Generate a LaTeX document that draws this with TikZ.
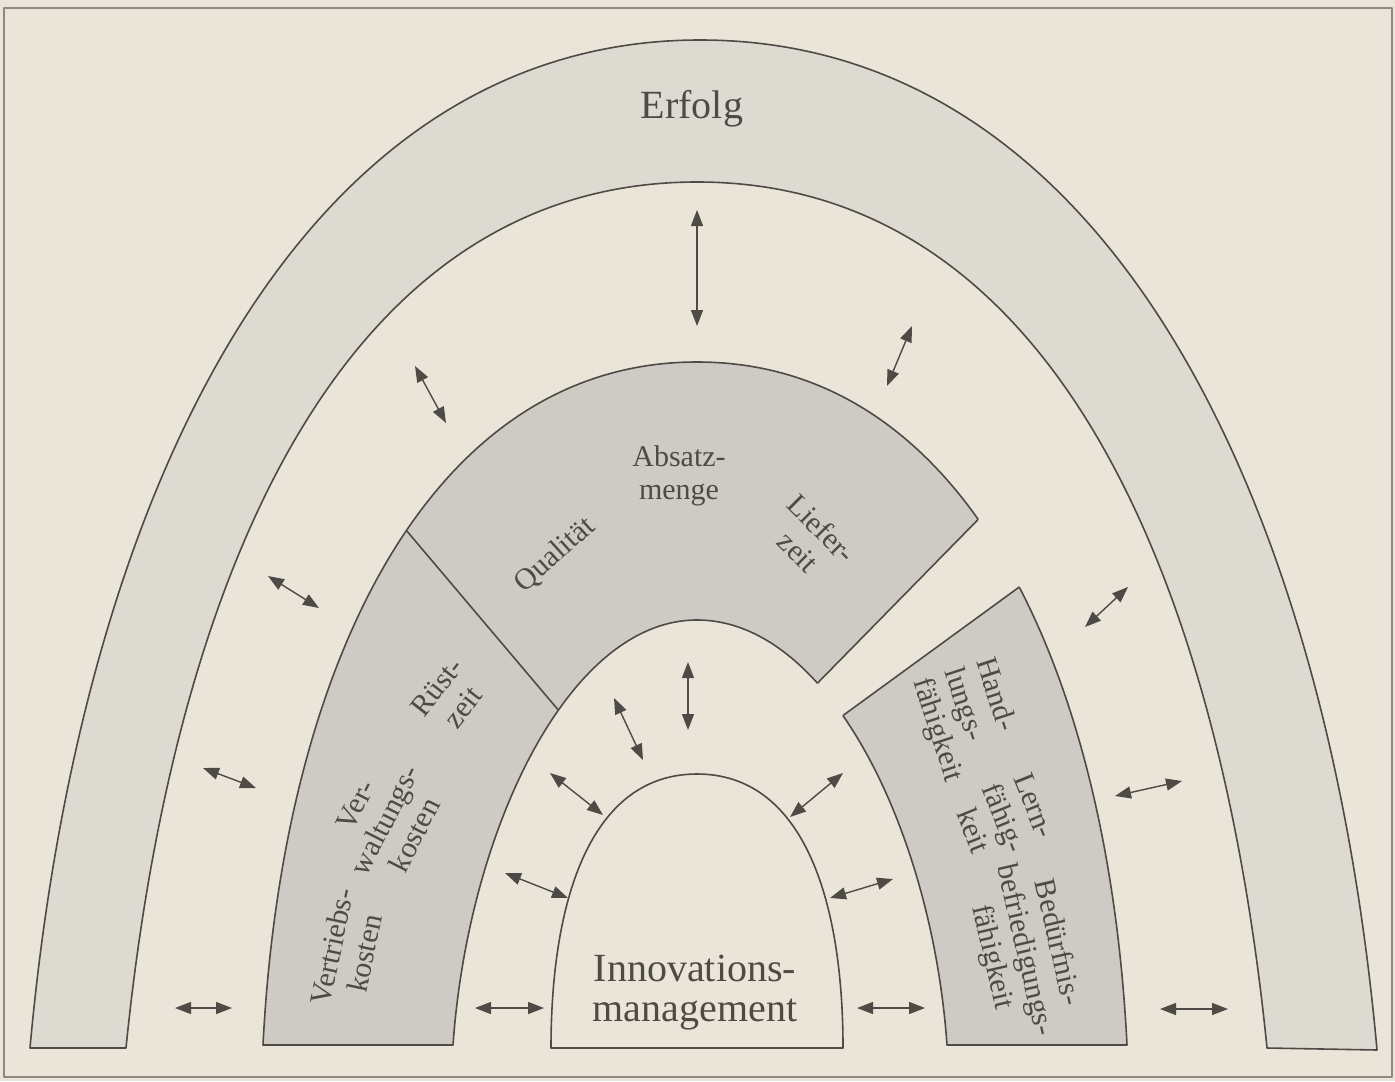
\documentclass[tikz,border=0pt]{standalone}
\usepackage{fontspec}
\setmainfont{Liberation Serif}
\usetikzlibrary{arrows.meta}
\definecolor{bg}{RGB}{234,229,216}
\definecolor{bandA}{RGB}{221,218,209}
\definecolor{bandB}{RGB}{206,203,196}
\definecolor{ink}{RGB}{78,74,70}
\definecolor{framec}{RGB}{140,137,130}
\tikzset{
  big/.style={font=\fontsize{20}{20}\selectfont, text=ink, inner sep=0pt},
  small/.style={font=\fontsize{15}{16.5}\selectfont, text=ink, inner sep=0pt, align=center},
  dbl/.style={{Triangle[length=8pt,width=6pt]}-{Triangle[length=8pt,width=6pt]}, line width=0.7pt, draw=ink},
  outl/.style={draw=ink, line width=0.8pt}
}
\def\midband{(263,1045) .. controls (282,669) and (428,362) .. (697,362) .. controls (966,362) and (1108,669) .. (1127,1045) -- (947,1045) .. controls (932,832) and (829,620) .. (697,620) .. controls (568,620) and (468,832) .. (453,1045) -- cycle}
\begin{document}
\begin{tikzpicture}[x=0.5pt,y=-0.5pt,line join=round]
\fill[bg] (0,0) rectangle (1395,1081);
\useasboundingbox (0,0) rectangle (1395,1081);
\draw[framec, line width=0.6pt] (4,8) rectangle (1392,1077);
% outer band (Erfolg)
\path[fill=bandA, outl] (30,1048) .. controls (80,495) and (298,40) .. (700,40) .. controls (1106,40) and (1327,496) .. (1377,1050) -- (1267,1048) .. controls (1219,572) and (1051,182) .. (697,182) .. controls (343,182) and (174,572) .. (126,1048) -- cycle;
% middle band, left piece
\begin{scope}
\clip (247,342) -- (620,783) -- (620,1100) -- (0,1100) -- (0,342) -- cycle;
\fill[bandB] \midband;
\draw[outl] \midband;
\end{scope}
% middle band, central piece
\begin{scope}
\clip (247,342) -- (620,783) -- (746,756) -- (1113,382) -- (1113,0) -- (247,0) -- cycle;
\fill[bandB] \midband;
\draw[outl] \midband;
\end{scope}
% middle band, right piece
\begin{scope}
\clip (1177,472) -- (760,776) -- (760,1100) -- (1395,1100) -- (1395,472) -- cycle;
\fill[bandB] \midband;
\draw[outl] \midband;
\end{scope}
% cut lines
\begin{scope}
\clip \midband;
\draw[outl] (247,342) -- (620,783);
\draw[outl] (1113,382) -- (746,756);
\draw[outl] (1177,472) -- (760,776);
\end{scope}
% innovation core
\path[fill=bg, outl] (551,1048) .. controls (551,897) and (592,774) .. (697,774) .. controls (802,774) and (843,897) .. (843,1048) -- cycle;
% labels
\node[big, anchor=base] (erfolg) at (692,119) {Erfolg};
\node[big, align=center] (innov) at (695,993) {Innovations-\\management};
\node[small] (absatz) at (679,476) {Absatz-\\menge};
\node[small, rotate=42] (qual) at (555,555) {Qualität};
\node[small, rotate=-45] (liefer) at (810,540) {Liefer-\\zeit};
\node[small, rotate=52] (ruest) at (450,697) {Rüst-\\zeit};
\node[small, rotate=63] (verw) at (385,820) {Ver-\\waltungs-\\kosten};
\node[small, rotate=78] (vertr) at (348,950) {Vertriebs-\\kosten};
\node[small, align=left, rotate=-72] (hand) at (968,720) {Hand-\\lungs-\\fähigkeit};
\node[small, rotate=-68] (lern) at (1004,818) {Lern-\\fähig-\\keit};
\node[small, rotate=-77] (bed) at (1024,950) {Bedürfnis-\\befriedigungs-\\fähigkeit};
% arrow end points
\coordinate (a1s) at (697,210);  \coordinate (a1e) at (697,326);
\coordinate (a2s) at (415,366);  \coordinate (a2e) at (446,423);
\coordinate (a3s) at (912,326);  \coordinate (a3e) at (887,386);
\coordinate (a4s) at (268,576);  \coordinate (a4e) at (319,608);
\coordinate (a5s) at (203,768);  \coordinate (a5e) at (256,788);
\coordinate (a6s) at (175,1008); \coordinate (a6e) at (232,1008);
\coordinate (a7s) at (475,1008); \coordinate (a7e) at (544,1008);
\coordinate (a8s) at (857,1008); \coordinate (a8e) at (925,1008);
\coordinate (a9s) at (1160,1009); \coordinate (a9e) at (1228,1009);
\coordinate (a10s) at (1115,796); \coordinate (a10e) at (1182,781);
\coordinate (a11s) at (1085,627); \coordinate (a11e) at (1128,587);
\coordinate (a12s) at (614,698);  \coordinate (a12e) at (643,760);
\coordinate (a13s) at (688,662);  \coordinate (a13e) at (688,730);
\coordinate (a14s) at (550,773);  \coordinate (a14e) at (603,815);
\coordinate (a15s) at (505,873);  \coordinate (a15e) at (568,898);
\coordinate (a16s) at (790,817);  \coordinate (a16e) at (843,773);
\coordinate (a17s) at (830,898);  \coordinate (a17e) at (893,879);
\foreach \i in {1,...,17} {\draw[dbl] (a\i s) -- (a\i e);}
\end{tikzpicture}
\end{document}
